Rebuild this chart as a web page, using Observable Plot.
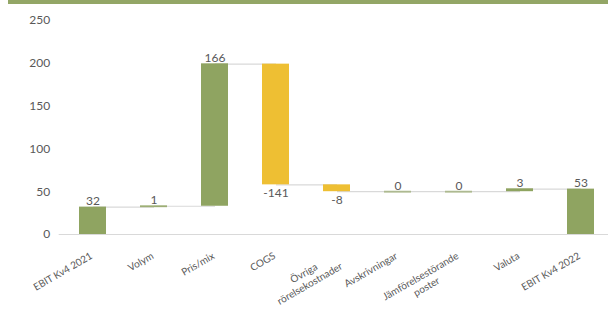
<!DOCTYPE html>
<html><head><meta charset="utf-8">
<script src="https://cdn.jsdelivr.net/npm/d3@7"></script>
<script src="https://cdn.jsdelivr.net/npm/@observablehq/plot@0.6"></script>
<style>
body{margin:0;background:#fff;overflow:hidden;}
#hdr{margin-left:8px;height:4px;background:#93a666;}
#chart svg{display:block;}
</style>
</head><body><div id="hdr"></div><div id="chart"></div>
<script>
const categories = ["EBIT Kv4 2021","Volym","Pris/mix","COGS","Övriga\nrörelsekostnader","Avskrivningar","Jämförelsestörande\nposter","Valuta","EBIT Kv4 2022"];
const values = [32, 1, 166, -141, -8, 0, 0, 3, 53];
const kinds = ["total","delta","delta","delta","delta","delta","delta","delta","total"];
const valueLabels = ["32","1","166","-141","-8","0","0","3","53"];
const yTicks = [0, 50, 100, 150, 200, 250];

const GREEN = "#8fa461", YELLOW = "#eebf33", GRID = "#d9d9d9", TEXT = "#595959";

// running totals for the waterfall
let run = 0;
const data = categories.map((cat, i) => {
  let start, end;
  if (kinds[i] === "total") { start = 0; end = values[i]; }
  else { start = run; end = run + values[i]; }
  run = end;
  return {cat, start, end, value: values[i], label: valueLabels[i], kind: kinds[i]};
});
const links = data.slice(0, -1).map((d, i) => ({a: d.cat, b: data[i + 1].cat, y: d.end}));

// measure label widths for rotated multi-line placement
const ctx = document.createElement("canvas").getContext("2d");
ctx.font = "10px Lato";
const ANG = -30, rad = Math.abs(ANG) * Math.PI / 180;
const labelMarks = categories.map(c => {
  const W = Math.max(...c.split("\n").map(s => ctx.measureText(s).width));
  return Plot.text([c], {
    x: d => d, frameAnchor: "bottom", rotate: ANG,
    textAnchor: "middle", lineAnchor: "top", lineHeight: 1.2,
    dx: -4 - (W / 2) * Math.cos(rad), dy: 16 + (W / 2) * Math.sin(rad),
    fontSize: 10, fill: TEXT
  });
});

const chart = Plot.plot({
  width: 608, height: 309,
  marginLeft: 58.7, marginRight: -6.45, marginTop: 16, marginBottom: 79,
  style: {fontFamily: "Lato", fontSize: "12px", color: TEXT, background: "#fff"},
  x: {domain: categories, paddingInner: 0.56, paddingOuter: 0.28, axis: null},
  y: {domain: [0, 250]},
  marks: [
    Plot.axisY(yTicks, {tickSize: 0, tickPadding: 9, fontSize: 12, fill: TEXT}),
    Plot.ruleY([0], {stroke: GRID, strokeWidth: 1}),
    Plot.link(links, {x1: "a", x2: "b", y1: "y", y2: "y", stroke: GRID, strokeWidth: 1.2}),
    Plot.barY(data.filter(d => d.value >= 0), {x: "cat", y1: "start", y2: "end", fill: GREEN}),
    Plot.barY(data.filter(d => d.value < 0), {x: "cat", y1: "start", y2: "end", fill: YELLOW}),
    Plot.tickY(data.filter(d => d.kind === "delta" && d.value >= 0), {x: "cat", y: "end", stroke: GREEN, strokeWidth: 2, strokeOpacity: 0.6}),
    Plot.text(data.filter(d => d.value >= 0), {x: "cat", y: "end", text: "label", lineAnchor: "bottom", dy: -2, fontSize: 12, fill: TEXT}),
    Plot.text(data.filter(d => d.value < 0), {x: "cat", y: "end", text: "label", lineAnchor: "top", dy: 4, fontSize: 12, fill: TEXT}),
    ...labelMarks
  ]
});
document.getElementById("chart").append(chart);
</script>
</body></html>
